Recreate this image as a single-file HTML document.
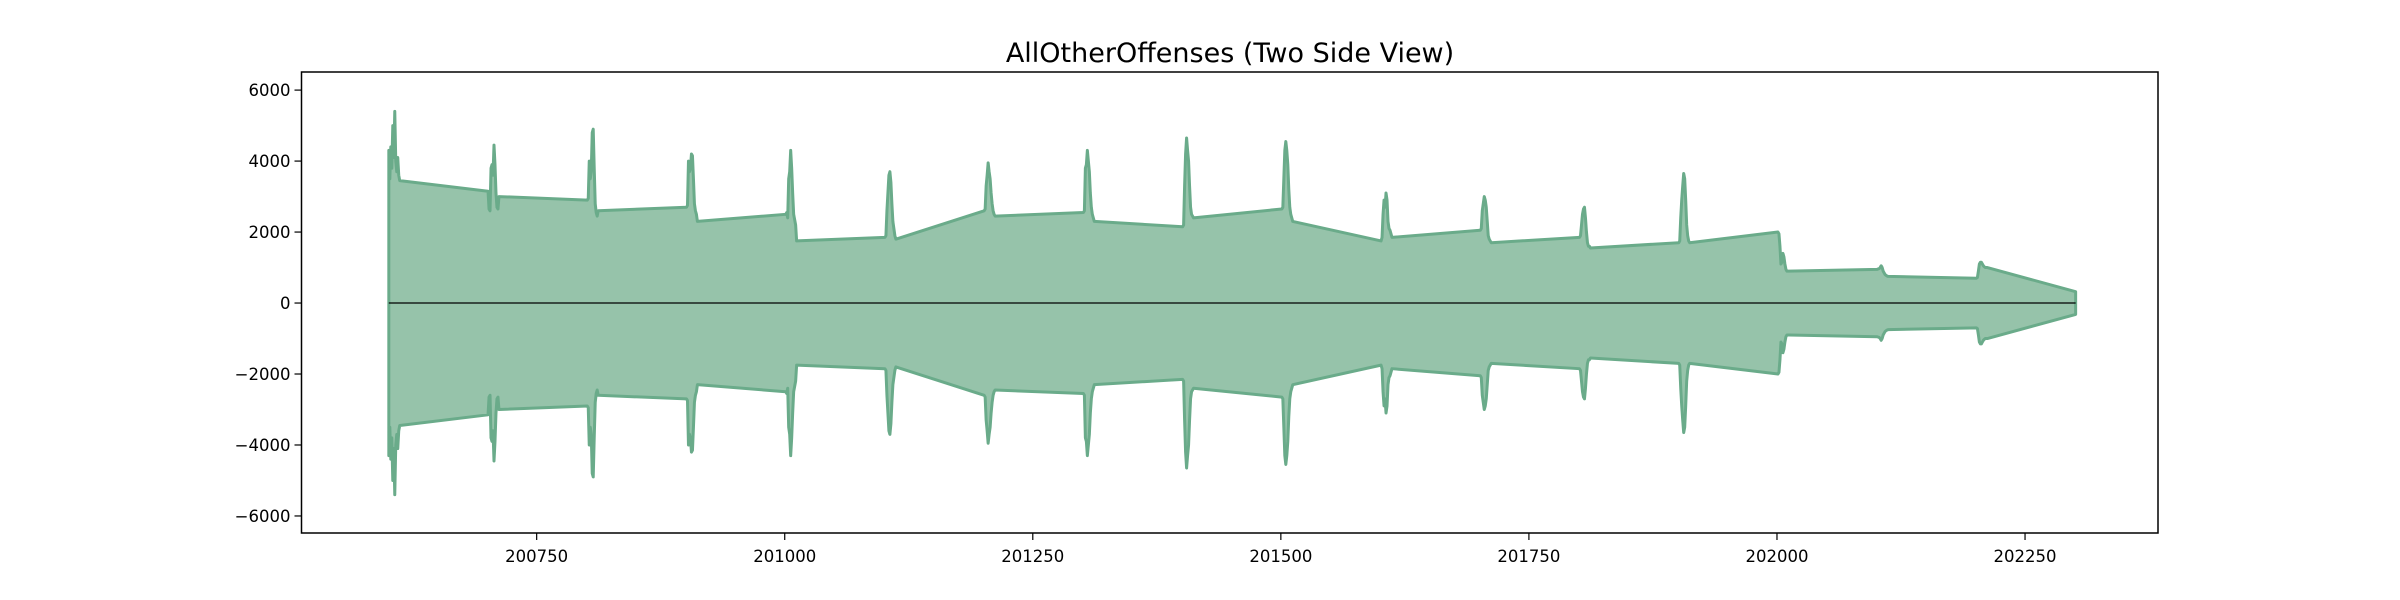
<!DOCTYPE html>
<html><head><meta charset="utf-8"><style>
body{margin:0;background:#fff;}
svg{display:block;font-family:"DejaVu Sans","Liberation Sans",sans-serif;}
</style></head><body>
<svg id="chart" width="2400" height="600" viewBox="0 0 2400 600">
<text x="1230" y="62" text-anchor="middle" font-size="27">AllOtherOffenses (Two Side View)</text>
<g id="plot"></g>
<g id="xaxis"></g>
<g id="yaxis"></g>
<rect x="301.5" y="72" width="1856.5" height="461" fill="none" stroke="#000" stroke-width="1.5"/>
</svg>
<script>
const years = [2006,2007,2008,2009,2010,2011,2012,2013,2014,2015,2016,2017,2018,2019,2020,2021,2022];
const monthly = [
 [4300,3500,4400,3800,5000,4100,5400,4000,3700,4100,3600,3450],
 [3150,2650,2600,3800,3900,3600,4450,3900,3100,2700,2650,3000],
 [2900,2950,4000,3500,3700,4800,4900,3800,2800,2550,2450,2600],
 [2700,2750,4000,3700,3800,4200,4150,3500,2800,2600,2500,2300],
 [2500,2550,2400,3500,3700,4300,3800,3100,2500,2350,2200,1750],
 [1850,1900,2600,3100,3600,3700,3400,2800,2300,2100,1900,1800],
 [2600,2650,3300,3600,3950,3700,3500,3100,2800,2600,2500,2450],
 [2550,2600,3800,3900,4300,4000,3700,3100,2700,2500,2400,2300],
 [2150,2200,3300,4200,4650,4300,4000,3300,2700,2500,2450,2400],
 [2650,2700,3500,4300,4550,4300,3900,3200,2700,2500,2400,2300],
 [1750,1850,2500,2900,2700,3100,2900,2300,2100,2050,1950,1850],
 [2050,2100,2600,2800,3000,2900,2700,2300,1900,1800,1750,1700],
 [1850,1900,2200,2500,2650,2700,2400,2000,1700,1600,1600,1550],
 [1700,1750,2400,2900,3300,3650,3500,2900,2200,1900,1750,1700],
 [2000,1950,1600,1100,1150,1400,1300,1100,950,900,900,900],
 [950,960,970,1000,1050,1000,900,850,800,780,760,750],
 [700,720,900,1100,1150,1150,1100,1050,1020,1000,1000,1000]
];
const extraX = [202301];
const extraY = [320];
const yTicks = [-6000,-4000,-2000,0,2000,4000,6000];
const xTicks = [200750,201000,201250,201500,201750,202000,202250];

const X0=301.5,X1=2158,Y0=533,Y1=72;
const xMin=200513,xMax=202384,yMin=-6480,yMax=6510;
const sx=v=>X0+(v-xMin)/(xMax-xMin)*(X1-X0);
const sy=v=>Y0-(v-yMin)/(yMax-yMin)*(Y0-Y1);
const NS='http://www.w3.org/2000/svg';

const xs=[],ys=[];
years.forEach((yr,i)=>monthly[i].forEach((v,m)=>{xs.push(yr*100+m+1);ys.push(v);}));
extraX.forEach((x,i)=>{xs.push(x);ys.push(extraY[i]);});

const plot=document.getElementById('plot');
const upperPts=xs.map((x,i)=>sx(x).toFixed(2)+','+sy(ys[i]).toFixed(2));
const lowerPts=xs.map((x,i)=>sx(x).toFixed(2)+','+sy(-ys[i]).toFixed(2)).reverse();
const area=document.createElementNS(NS,'polygon');
area.setAttribute('points',upperPts.concat(lowerPts).join(' '));
area.setAttribute('fill','#96c3aa');
area.setAttribute('stroke','#6aab8a');
area.setAttribute('stroke-width','3');
area.setAttribute('stroke-linejoin','round');


plot.appendChild(area);
const zl=document.createElementNS(NS,'line');
zl.setAttribute('x1',sx(xs[0]));zl.setAttribute('x2',sx(xs[xs.length-1]));
zl.setAttribute('y1',sy(0));zl.setAttribute('y2',sy(0));
zl.setAttribute('stroke','#000');zl.setAttribute('stroke-width','1.2');


plot.appendChild(zl);

const xa=document.getElementById('xaxis');
xTicks.forEach(t=>{
 const l=document.createElementNS(NS,'line');
 l.setAttribute('x1',sx(t));l.setAttribute('x2',sx(t));l.setAttribute('y1',Y0);l.setAttribute('y2',Y0+7);
 l.setAttribute('stroke','#000');l.setAttribute('stroke-width','1.2');
 
 
 xa.appendChild(l);
 const tx=document.createElementNS(NS,'text');
 tx.setAttribute('x',sx(t));tx.setAttribute('y',Y0+29);tx.setAttribute('text-anchor','middle');tx.setAttribute('font-size','16.5');
 tx.textContent=t;
 
 
 xa.appendChild(tx);
});
const ya=document.getElementById('yaxis');
yTicks.forEach(t=>{
 const l=document.createElementNS(NS,'line');
 l.setAttribute('x1',X0-7);l.setAttribute('x2',X0);l.setAttribute('y1',sy(t));l.setAttribute('y2',sy(t));
 l.setAttribute('stroke','#000');l.setAttribute('stroke-width','1.2');
 
 
 ya.appendChild(l);
 const tx=document.createElementNS(NS,'text');
 tx.setAttribute('x',X0-11);tx.setAttribute('y',sy(t)+6);tx.setAttribute('text-anchor','end');tx.setAttribute('font-size','16.5');
 tx.textContent=(t<0?'\u2212':'')+Math.abs(t);
 
 
 ya.appendChild(tx);
});
</script>
</body></html>
